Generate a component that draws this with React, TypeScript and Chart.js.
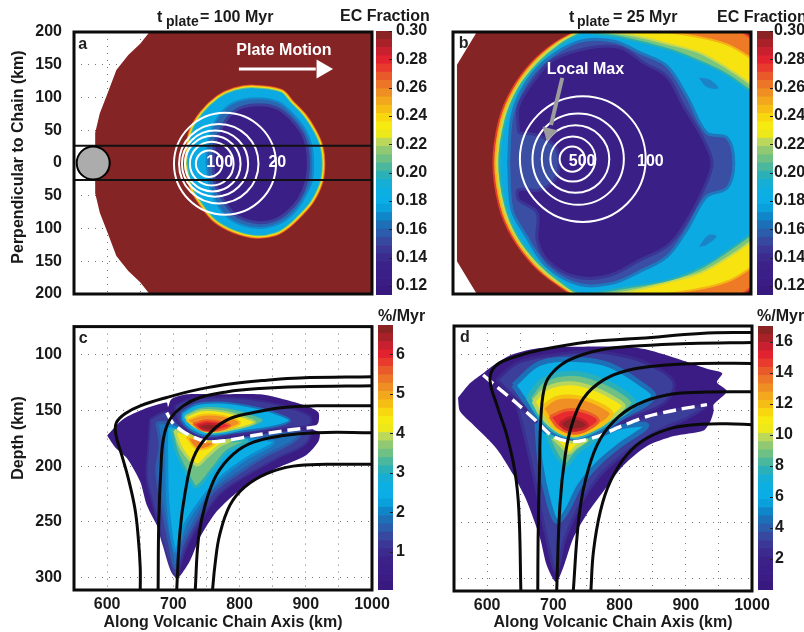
import React, { useEffect, useRef } from "react";
import { Chart, registerables } from "chart.js";

Chart.register(...registerables);

type P = [number, number];

// ---------- axis ticks ----------
const alongTicks = [550, 600, 650, 700, 750, 800, 850, 900, 950, 1000];
const alongLabels = [600, 700, 800, 900, 1000];
const perpTicks = [-200, -150, -100, -50, 0, 50, 100, 150, 200];
const depthTicks = [100, 150, 200, 250, 300];
const ecTicks = [0.3, 0.28, 0.26, 0.24, 0.22, 0.2, 0.18, 0.16, 0.14, 0.12];
const rateTicksC = [1, 2, 3, 4, 5, 6];
const rateTicksD = [2, 4, 6, 8, 10, 12, 14, 16];

// ---------- colour bars ----------
const barColors = ["#38197f", "#3a1c84", "#3b1f88", "#3c2288", "#3c2a8f", "#3b3797", "#37499f", "#2c5dac", "#1d70b8", "#0f86c8", "#09a0dc", "#0aade5", "#0dafe3", "#16aed4", "#2bb0b8", "#4bb79c", "#6ec085", "#90c972", "#bcd85a", "#ece81a", "#f7ea10", "#f8d70f", "#f6bd14", "#f3a71c", "#ef8f23", "#ec7527", "#e95a2a", "#e93a2e", "#e2222f", "#c8202f", "#a92128", "#8a2324"];
const ecLevels = [0.1137, 0.1195, 0.1253, 0.1312, 0.137, 0.1428, 0.1486, 0.1545, 0.1603, 0.1661, 0.172, 0.1778, 0.1836, 0.1894, 0.1953, 0.2011, 0.2069, 0.2127, 0.2186, 0.2244, 0.2302, 0.236, 0.2419, 0.2477, 0.2535, 0.2593, 0.2652, 0.271, 0.2768, 0.2826, 0.2885, 0.2942, 0.3];
const rateLevelsC = [0.035, 0.245, 0.454, 0.664, 0.873, 1.08, 1.29, 1.5, 1.71, 1.92, 2.13, 2.34, 2.55, 2.76, 2.97, 3.18, 3.39, 3.6, 3.81, 4.02, 4.23, 4.43, 4.64, 4.85, 5.06, 5.27, 5.48, 5.69, 5.9, 6.11, 6.32, 6.53, 6.74];
const rateLevelsD = [0, 0.53, 1.06, 1.59, 2.13, 2.66, 3.19, 3.72, 4.25, 4.78, 5.31, 5.84, 6.38, 6.91, 7.44, 7.97, 8.5, 9.03, 9.56, 10.09, 10.63, 11.16, 11.69, 12.22, 12.75, 13.28, 13.81, 14.34, 14.88, 15.41, 15.94, 16.47, 17];

// ---------- panel a: contours of EC fraction ----------
const aBase: P[] = [[1010, 205], [668, 205], [650, 182], [632, 165], [614, 142], [599, 102], [589, 76], [582, 46], [582, -46], [589, -76], [599, -102], [614, -142], [632, -165], [650, -182], [668, -205], [1010, -205]];
const aCyan: P[] = [[723, 0], [730, 46], [746, 74], [770, 97], [793, 108], [821, 112], [861, 106], [875, 91], [894, 71], [909, 48], [919, 25], [922, 0], [919, -28], [906, -56], [889, -76], [870, -94], [853, -104], [826, -108], [793, -100], [765, -84], [746, -61], [731, -36]];
const aBlue: P[] = [[750, 0], [753, 36], [768, 71], [791, 92], [826, 99], [859, 93], [881, 74], [899, 51], [909, 25], [911, 0], [909, -28], [896, -56], [879, -79], [856, -94], [826, -99], [791, -89], [770, -69], [755, -36]];
const aDark: P[] = [[760, 0], [763, 31], [780, 66], [801, 84], [831, 89], [856, 84], [876, 69], [894, 46], [902, 23], [904, 0], [901, -28], [889, -56], [871, -76], [851, -88], [826, -91], [796, -81], [778, -61], [763, -31]];
const aRingCenters: P[] = [[778, -1], [768.6, -1], [763, -1], [759.5, -1], [758, -1], [754, -1]];
const aRingRadiiKm = [77, 60, 50, 42, 33, 20];
const aChainUpper: P[] = [[550, 26.5], [1000, 26.5]];
const aChainLower: P[] = [[550, -26], [1000, -26]];
const aVolcano: P[] = [[579, 0]];
const plateShaft: P[] = [[799, 143.5], [915, 143.5]];
const plateHead: P[] = [[924.6, 143.5]];

// ---------- panel b ----------
const bBase: P[] = [[589, 205], [556, 150], [556, -150], [589, -205], [1010, -205], [1010, 205]];
const bOrange: P[] = [[742, 204], [974, 204], [1010, 170], [1010, -170], [974, -204], [742, -204], [704, -183], [669, -153], [639, -112], [620, -66], [611, 0], [620, 66], [639, 112], [669, 153], [704, 183]];
const bYellow: P[] = [[745, 204], [833, 204], [913, 194], [964, 181], [1000, 160], [1010, 150], [1010, -150], [1000, -160], [964, -181], [913, -194], [833, -204], [745, -204], [707, -183], [672, -153], [642, -112], [623, -66], [614, 0], [623, 66], [642, 112], [672, 153], [707, 183]];
const bGreen: P[] = [[748, 204], [820, 195], [878, 181], [923, 168], [964, 145], [1000, 120], [1010, 110], [1010, -110], [1000, -120], [964, -145], [923, -168], [878, -181], [820, -195], [748, -204], [710, -183], [675, -153], [645, -112], [626, -66], [617, 0], [626, 66], [645, 112], [675, 153], [710, 183]];
const bCyan: P[] = [[745, 200], [808, 191], [878, 173], [928, 153], [964, 135], [1000, 109], [1010, 100], [1010, -100], [1000, -109], [964, -135], [928, -158], [878, -178], [808, -191], [745, -200], [712, -181], [677, -150], [648, -112], [629, -64], [620, 0], [629, 64], [648, 112], [677, 150], [712, 181]];
const bPatchTop: P[] = [[921, 130], [938, 127], [951, 114], [933, 116]];
const bPatchBottom: P[] = [[921, -128], [933, -125], [948, -112], [936, -110]];
const bMid: P[] = [[634, 0], [639, 71], [659, 120], [692, 158], [742, 186], [793, 186], [833, 168], [873, 148], [903, 102], [933, 46], [964, 38], [974, 0], [964, -38], [933, -51], [903, -102], [873, -143], [833, -165], [793, -183], [742, -186], [692, -158], [659, -109], [639, -71]];
const bDark: P[] = [[649, 46], [649, 87], [677, 132], [702, 158], [757, 176], [803, 176], [838, 153], [873, 132], [898, 87], [928, 36], [941, 0], [928, -41], [898, -97], [873, -127], [833, -148], [782, -173], [732, -173], [692, -148], [677, -117], [677, -76], [649, -56], [649, -41], [682, -41], [707, -20], [707, 20], [682, 41]];
const bRingCenters: P[] = [[746, 6], [739, 6], [735, 6], [731, 6], [730, 6]];
const bRingRadiiKm = [95, 69, 51, 34, 19];
const localMaxShaft: P[] = [[715, 130], [698, 58]];
const localMaxHead: P[] = [[695, 46]];

// ---------- panel c ----------
const cOuter: P[] = [[600, 172.6], [624, 158], [655, 149], [690, 143], [692, 147], [697, 140], [720, 135.6], [765, 135.6], [831, 135.6], [866, 140], [901, 146], [919, 152], [919, 161], [911, 167], [921, 170], [919, 178], [901, 190], [856, 202], [821, 214], [791, 226], [765, 241], [740, 264], [725, 285], [705, 301], [695, 288], [680, 259], [660, 235], [650, 214], [630, 193], [612, 183]];
const cWedgeMid: P[] = [[665, 158], [662, 185], [660, 210], [672, 240], [685, 270], [703, 298], [718, 275], [742, 248], [770, 225], [820, 205], [860, 192], [900, 180], [905, 168], [791, 176], [750, 178], [720, 171], [690, 152]];
const cWedgeBlue: P[] = [[675, 161], [680, 181], [675, 205], [685, 241], [695, 271], [703, 291], [713, 271], [735, 247], [760, 223], [801, 205], [841, 190], [881, 178], [891, 170], [791, 176], [750, 178], [720, 171], [700, 162]];
const cWedgeCyan: P[] = [[690, 165], [690, 190], [692, 235], [703, 276], [717, 253], [740, 232], [770, 211], [811, 193], [851, 178.5], [801, 176], [750, 178.5], [720, 171], [697, 164]];
const cWedgeTeal: P[] = [[697, 167], [705, 187], [725, 211], [735, 218.6], [760, 202], [780.5, 187], [811, 177], [750, 178.5], [720, 171]];
const cWedgeYellow: P[] = [[702, 168], [712.6, 184.5], [735, 199], [750, 192], [770, 181.5], [785.5, 177], [750, 178], [720, 171]];
const cWedgeOrange: P[] = [[720, 174], [735, 184.5], [750, 184], [763, 179], [750, 178], [733, 175]];
const cLobeMid: P[] = [[702.5, 146], [725, 140], [765, 138.5], [816, 140], [866, 146], [906, 155], [906, 163], [871, 166], [790.6, 172.6], [750, 175.6], [722.6, 169], [705, 159]];
const cLobeCyan: P[] = [[712.6, 152], [735, 144.5], [770, 143], [811, 146], [851, 152], [876, 159], [856, 164], [790.6, 170], [750, 173], [725, 167], [712.6, 159]];
const cLobeTeal: P[] = [[715, 154], [740, 147], [775.5, 147], [811, 152], [836, 159], [806, 166.7], [755, 171], [728, 165]];
const cLobeYellow: P[] = [[717.6, 156], [743, 150], [775.5, 151], [805.7, 156], [823, 161], [790.6, 167], [753, 169.7], [730, 164]];
const cLobeOrange: P[] = [[720, 159], [745, 154], [775.5, 155], [800.6, 161], [785.5, 166], [753, 169], [733, 164]];
const cLobeRed: P[] = [[730, 162], [750, 159], [775.5, 161], [785.5, 164], [760, 168.5], [740, 167]];
const cLobeDark: P[] = [[738, 164], [753, 162], [770, 164], [760, 168], [745, 167]];
const cDashed: P[] = [[690, 152], [700, 162], [720, 171], [750, 178], [780.5, 177], [821, 172.6], [871, 168], [916, 165]];
const cFlow1: P[] = [[1002, 120], [891, 121], [841, 123], [791, 126], [740, 131], [690, 138.5], [650, 146], [627, 153], [614, 161], [613, 171], [622, 190], [632, 211], [642, 238], [647, 264], [650, 291], [650, 312]];
const cFlow2: P[] = [[1002, 128], [891, 129], [831, 130.5], [780, 133.5], [740, 138.5], [715, 146], [695, 158], [685, 175.6], [681, 205], [678, 250], [677, 312]];
const cFlow3: P[] = [[1002, 146], [916, 146], [866, 147.4], [821, 152], [780, 159], [750, 174], [730, 193], [718, 223], [710, 258.6], [705, 312]];
const cFlow4: P[] = [[1002, 170], [916, 170], [866, 172.6], [821, 178.5], [791, 189], [765, 208], [748, 235], [738, 264.5], [733, 312]];
const cFlow5: P[] = [[1002, 198.4], [931, 198.4], [881, 200], [841, 206.7], [808, 218.6], [785.5, 235], [770, 261.5], [763, 288], [759, 312]];

// ---------- panel d ----------
const dOuter: P[] = [[556, 139], [574, 126], [594, 117], [607, 111], [635, 101], [675, 95], [730, 93.5], [811, 93.5], [841, 96], [892, 105], [932, 113], [955, 117], [947, 125], [962, 133], [942, 145], [942, 151], [937, 160], [927, 168], [882, 173], [841, 182], [806, 199], [776, 222], [750, 243], [730, 264], [715, 290], [704, 303], [690, 288], [680, 264], [660, 231], [640, 208], [614, 184], [579, 163], [559, 151]];
const dWedgeMid: P[] = [[645, 145], [660, 181], [675, 222], [690, 264], [704, 293.5], [718, 264], [740.5, 234], [771, 207.6], [811, 187], [856, 169], [902, 157], [927, 147], [841, 155.7], [766, 173.5], [730, 178], [700, 173.5]];
const dWedgeCyan: P[] = [[675, 161.6], [680, 195.7], [692.6, 231], [705, 249], [720, 240], [740.5, 216.5], [771, 195.7], [801, 181], [841, 163.7], [801, 165], [766, 173.5], [730, 178], [700, 173.5]];
const dWedgeTeal: P[] = [[690, 170.5], [703, 188], [719, 198.7], [735, 188], [760.6, 176.5], [771, 172], [730, 178], [700, 173.5]];
const dWedgeYellow: P[] = [[700, 175], [713, 182.4], [723, 188], [735, 182.4], [750.5, 176.5], [730, 178.5]];
const dLobeMid: P[] = [[614.5, 123], [645, 108], [695, 101], [755.6, 98], [800.9, 101], [841, 108], [881.6, 124.6], [871, 142], [831, 154], [791, 163], [766, 170.5], [730, 175.6], [700, 170.5], [675, 157], [645, 141]];
const dLobeCyan: P[] = [[640, 127.6], [680, 108], [740.5, 105], [786, 110], [831, 126], [851, 138], [806, 155.7], [766, 169.6], [730, 174], [700, 170], [675, 156]];
const dLobeTeal: P[] = [[662, 139], [685, 123], [730, 117], [771, 123], [811, 136], [821, 145], [786, 160], [755.6, 169.6], [730, 173.8], [703, 168.5], [680, 155.7]];
const dLobeYellow: P[] = [[670, 142], [690, 130.5], [725, 126], [760.6, 130.5], [796, 141], [806, 147], [776, 161.6], [750.5, 169], [730, 172.6], [705, 167.6], [683, 155.7]];
const dLobeOrange: P[] = [[682.5, 148], [705, 139], [740.5, 138.8], [776, 146.8], [788, 154], [760.6, 166.7], [730, 172], [705, 166.7]];
const dLobeRed: P[] = [[695, 155.7], [720, 149.8], [745.5, 151], [768, 158.7], [750.5, 167.6], [730, 170.5], [708, 165.5]];
const dLobeDark: P[] = [[710, 161.6], [725, 156.6], [743, 158.7], [751.6, 163.7], [735.5, 167.6], [718, 166.7]];
const dDashed: P[] = [[594, 118.7], [614.5, 129], [645, 144], [675, 160], [700, 173.5], [730, 178], [766, 173.5], [801, 164.6], [841, 155.7], [892, 149], [932, 145]];
const dFlow1: P[] = [[1002, 80.7], [922, 81.6], [831, 86], [755.6, 89], [680, 96.4], [635, 103.8], [612, 111], [604.4, 123], [614.5, 145], [629.6, 172], [642, 204.6], [648, 240], [651, 312]];
const dFlow2: P[] = [[1002, 89.6], [907, 90.5], [831, 92.6], [771, 96.4], [725, 105], [700, 115.7], [687.6, 127.6], [681.5, 154], [679, 204.6], [677, 264], [676.5, 312]];
const dFlow3: P[] = [[1002, 108.3], [922, 108.3], [871.5, 109.8], [816, 114], [776, 123], [745.5, 139.4], [728, 163], [718, 189.8], [710, 234], [705, 312]];
const dFlow4: P[] = [[1002, 133.5], [922, 134], [871.5, 136.4], [826, 145], [791, 160], [766, 181], [748, 213.5], [738, 249], [730, 312]];
const dFlow5: P[] = [[1002, 163], [962, 162], [922, 162.5], [881.6, 165.5], [841, 175], [811, 189.8], [786, 213.5], [771, 240], [760.6, 275.7], [756.6, 312]];

// ---------- drawing helpers ----------
const FAMILY = "'Liberation Sans', Arial, sans-serif";
const PX_PER_KM = 298 / 450;
const toXY = (pts: P[]) => pts.map(([x, y]) => ({ x, y }));
const none = { pointRadius: 0, pointHoverRadius: 0 };

function area(pts: P[], fill: string, edge?: string, width = 2, tension = 0.35) {
  return {
    data: toXY([...pts, pts[0]]), showLine: true, fill: "shape", tension,
    backgroundColor: fill, borderColor: edge || fill, borderWidth: edge ? width : 0, ...none,
  };
}
function stroke(pts: P[], color: string, width: number, tension = 0.4, dash?: number[]) {
  return {
    data: toXY(pts), showLine: true, fill: false, tension, borderColor: color,
    borderWidth: width, borderDash: dash || [], ...none,
  };
}
function band(pts: P[], color: string, width: number) {
  return stroke([...pts, pts[0]], color, width, 0.35);
}
function rings(centers: P[], radiiKm: number[]) {
  return {
    data: toXY(centers), showLine: false, pointRadius: radiiKm.map((r) => r * PX_PER_KM),
    pointBackgroundColor: "rgba(0,0,0,0)", pointBorderColor: "#ffffff", pointBorderWidth: 2,
  };
}
function marker(pts: P[], style: string, radius: number, color: string, rotation = 0, edge?: string, edgeW = 0) {
  return {
    data: toXY(pts), showLine: false, pointStyle: style, pointRadius: radius, pointRotation: rotation,
    pointBackgroundColor: color, pointBorderColor: edge || color, pointBorderWidth: edgeW,
  };
}

type Note = { text: string; x: number; y: number; color: string };

function decor(notes: Note[]) {
  return {
    id: "decor",
    afterDraw(chart: any) {
      const { ctx, chartArea: a, scales } = chart;
      ctx.save();
      ctx.font = `bold 16px ${FAMILY}`;
      ctx.textAlign = "center";
      ctx.textBaseline = "middle";
      for (const n of notes) {
        ctx.fillStyle = n.color;
        ctx.fillText(n.text, scales.x.getPixelForValue(n.x), scales.y.getPixelForValue(n.y));
      }
      ctx.strokeStyle = "#0b0b0b";
      ctx.lineWidth = 3;
      ctx.strokeRect(a.left, a.top, a.right - a.left, a.bottom - a.top);
      ctx.restore();
    },
  };
}

const barTickMarks = {
  id: "barTickMarks",
  afterDraw(chart: any) {
    const { ctx, chartArea: a, scales } = chart;
    ctx.save();
    ctx.strokeStyle = "#222222";
    ctx.lineWidth = 1;
    for (const t of scales.y.ticks) {
      const y = Math.round(scales.y.getPixelForValue(t.value)) + 0.5;
      ctx.beginPath();
      ctx.moveTo(a.right - 3, y);
      ctx.lineTo(a.right, y);
      ctx.stroke();
    }
    ctx.restore();
  },
};

type PlotSpec = {
  layers: any[]; notes: Note[]; yMin: number; yMax: number; yTicks: number[]; reverse?: boolean;
  showY: boolean; showX: boolean; yWidth: number; xHeight: number; padTop: number; padRight: number;
};

function plotConfig(s: PlotSpec): any {
  const font = { family: FAMILY, size: 16, weight: "bold" };
  const grid = { color: "#777777", lineWidth: 1, drawTicks: false };
  const border = { display: false, dash: [1, 6] };
  return {
    type: "scatter",
    data: { datasets: [...s.layers].reverse() },
    options: {
      animation: false, responsive: false, events: [],
      layout: { autoPadding: false, padding: { top: s.padTop, right: s.padRight, left: 0, bottom: 0 } },
      plugins: { legend: { display: false }, tooltip: { enabled: false } },
      scales: {
        x: {
          type: "linear", min: 550, max: 1000, grid, border,
          afterBuildTicks: (sc: any) => { sc.ticks = alongTicks.map((value) => ({ value })); },
          afterFit: (sc: any) => { sc.height = s.xHeight; },
          ticks: {
            display: s.showX, color: "#1a1a1a", font, padding: 5, autoSkip: false, maxRotation: 0,
            callback: (v: number) => (alongLabels.includes(v) ? String(v) : ""),
          },
        },
        y: {
          type: "linear", min: s.yMin, max: s.yMax, reverse: !!s.reverse, grid, border,
          afterBuildTicks: (sc: any) => { sc.ticks = s.yTicks.map((value) => ({ value })); },
          afterFit: (sc: any) => { sc.width = s.yWidth; },
          ticks: {
            display: s.showY, color: "#1a1a1a", font, padding: 12, autoSkip: false,
            callback: (v: number) => String(Math.abs(v)),
          },
        },
      },
    },
    plugins: [decor(s.notes)],
  };
}

function barConfig(levels: number[], ticks: number[], digits: number, barW: number, canvasW: number, padTop: number, padBottom: number, gap: number): any {
  return {
    type: "bar",
    data: {
      labels: [""],
      datasets: barColors.map((c, i) => ({
        data: [[levels[i], levels[i + 1]]], backgroundColor: c, barPercentage: 1, categoryPercentage: 1, borderWidth: 0,
      })),
    },
    options: {
      animation: false, responsive: false, events: [],
      layout: { autoPadding: false, padding: { top: padTop, bottom: padBottom, left: 2, right: 0 } },
      plugins: { legend: { display: false }, tooltip: { enabled: false } },
      scales: {
        x: { stacked: true, display: false },
        y: {
          stacked: false, position: "right", min: levels[0], max: levels[levels.length - 1],
          grid: { display: false, drawTicks: false }, border: { display: false },
          afterBuildTicks: (sc: any) => { sc.ticks = ticks.map((value) => ({ value })); },
          afterFit: (sc: any) => { sc.width = canvasW - 2 - barW; },
          ticks: {
            color: "#1a1a1a", padding: gap, autoSkip: false,
            font: { family: FAMILY, size: 16, weight: "bold" },
            callback: (v: number) => v.toFixed(digits),
          },
        },
      },
    },
    plugins: [barTickMarks],
  };
}

// ---------- panels ----------
const panelA = plotConfig({
  layers: [
    area(aBase, "#842424", undefined, 0, 0),
    band(aCyan, "#e8552a", 10),
    band(aCyan, "#f4a11c", 8.5),
    band(aCyan, "#f7e612", 7),
    band(aCyan, "#74c27e", 5),
    band(aCyan, "#0faadf", 3),
    area(aCyan, "#0caae2"),
    area(aBlue, "#2a68b2", "#1388cc", 2),
    area(aDark, "#3a1f87", "#3b3f9a", 3),
    rings(aRingCenters, aRingRadiiKm),
    stroke(aChainUpper, "#111111", 2, 0),
    stroke(aChainLower, "#111111", 2, 0),
    marker(aVolcano, "circle", 16.5, "#acacac", 0, "#000000", 2),
    stroke(plateShaft, "#ffffff", 3, 0),
    marker(plateHead, "triangle", 11, "#ffffff", 90),
  ],
  notes: [
    { text: "a", x: 563, y: 181, color: "#222222" },
    { text: "Plate Motion", x: 867, y: 171, color: "#ffffff" },
    { text: "100", x: 770, y: 0, color: "#ffffff" },
    { text: "20", x: 857, y: 0, color: "#ffffff" },
  ],
  yMin: -200, yMax: 200, yTicks: perpTicks, showY: true, showX: false,
  yWidth: 74, xHeight: 36, padTop: 32, padRight: 28,
});

const panelB = plotConfig({
  layers: [
    area(bBase, "#842424", undefined, 0, 0),
    area(bOrange, "#ee7a25", "#e2402a", 2),
    area(bYellow, "#f7e30f", "#f5b316", 2),
    area(bGreen, "#7cc57c", "#c4da54", 2),
    area(bCyan, "#0caae2", "#2bb0b0", 2),
    area(bPatchTop, "#1b84c6"),
    area(bPatchBottom, "#1b84c6"),
    area(bMid, "#3a4ea3", "#1f78be", 3),
    area(bDark, "#3a1f87", "#3b3595", 3),
    rings(bRingCenters, bRingRadiiKm),
    stroke(localMaxShaft, "#9c9c9c", 4, 0),
    marker(localMaxHead, "triangle", 9, "#9c9c9c", 194),
  ],
  notes: [
    { text: "b", x: 566, y: 183, color: "#222222" },
    { text: "Local Max", x: 750, y: 143, color: "#ffffff" },
    { text: "500", x: 745, y: 2.5, color: "#ffffff" },
    { text: "100", x: 848, y: 2.5, color: "#ffffff" },
  ],
  yMin: -200, yMax: 200, yTicks: perpTicks, showY: false, showX: false,
  yWidth: 13, xHeight: 36, padTop: 32, padRight: 19,
});

const panelC = plotConfig({
  layers: [
    area(cOuter, "#3a1c84", undefined, 0, 0.25),
    area(cWedgeMid, "#3b3f9a", "#3b2f90", 2),
    area(cWedgeBlue, "#1f72ba", "#2c5dac", 3),
    area(cWedgeCyan, "#0aaee4", "#0f8cd0", 3),
    area(cWedgeTeal, "#6ec085", "#2bb0b8", 3),
    area(cWedgeYellow, "#f6e712", "#b8d65c", 3),
    area(cWedgeOrange, "#ef7f25", "#f6bd14", 2),
    area(cLobeMid, "#3c3a96", "#3b2a8c", 2),
    area(cLobeCyan, "#0aaee4", "#1d70b8", 2),
    area(cLobeTeal, "#5cbc90", "#16aed4", 2),
    area(cLobeYellow, "#f4e716", "#a6d064", 2),
    area(cLobeOrange, "#f09024", "#f6c012", 2),
    area(cLobeRed, "#e62a2e", "#ec5c28", 2),
    area(cLobeDark, "#8f2325", "#c0202c", 2),
    stroke(cDashed, "#ffffff", 3.4, 0.3, [13, 6]),
    stroke(cFlow1, "#0a0a0a", 3),
    stroke(cFlow2, "#0a0a0a", 3),
    stroke(cFlow3, "#0a0a0a", 3),
    stroke(cFlow4, "#0a0a0a", 3),
    stroke(cFlow5, "#0a0a0a", 3),
  ],
  notes: [{ text: "c", x: 564, y: 86, color: "#222222" }],
  yMin: 75, yMax: 311, yTicks: depthTicks, reverse: true, showY: true, showX: true,
  yWidth: 74, xHeight: 42, padTop: 20, padRight: 28,
});

const panelD = plotConfig({
  layers: [
    area(dOuter, "#3a1c84", undefined, 0, 0.25),
    area(dWedgeMid, "#3b3f9a", "#3b2f90", 3),
    area(dWedgeCyan, "#0aaee4", "#1d70b8", 5),
    area(dWedgeTeal, "#6ec085", "#2bb0b8", 4),
    area(dWedgeYellow, "#f6e712", "#b8d65c", 3),
    area(dLobeMid, "#3b3f9a", "#3b2a8c", 3),
    area(dLobeCyan, "#0aaee4", "#1d70b8", 5),
    area(dLobeTeal, "#6ec085", "#2bb0b8", 5),
    area(dLobeYellow, "#f6e712", "#b8d65c", 4),
    area(dLobeOrange, "#f09024", "#f6c012", 4),
    area(dLobeRed, "#e62a2e", "#ec5c28", 3),
    area(dLobeDark, "#8f2325", "#c0202c", 3),
    stroke(dDashed, "#ffffff", 3.4, 0.3, [13, 6]),
    stroke(dFlow1, "#0a0a0a", 3),
    stroke(dFlow2, "#0a0a0a", 3),
    stroke(dFlow3, "#0a0a0a", 3),
    stroke(dFlow4, "#0a0a0a", 3),
    stroke(dFlow5, "#0a0a0a", 3),
  ],
  notes: [{ text: "d", x: 566.6, y: 85, color: "#222222" }],
  yMin: 75, yMax: 311, yTicks: depthTicks, reverse: true, showY: false, showX: true,
  yWidth: 14, xHeight: 41, padTop: 21, padRight: 48,
});

// ---------- components ----------
function Canvas({ config, left, top, w, h }: { config: any; left: number; top: number; w: number; h: number }) {
  const ref = useRef<HTMLCanvasElement | null>(null);
  useEffect(() => {
    const chart = new Chart(ref.current as HTMLCanvasElement, config);
    return () => chart.destroy();
  }, [config]);
  return <canvas ref={ref} width={w} height={h} style={{ position: "absolute", left, top, width: w, height: h, display: "block" }} />;
}

function Text({ x, y, size = 16, rotate, center, children }: any) {
  return (
    <div
      style={{
        position: "absolute", left: x, top: y, whiteSpace: "nowrap", lineHeight: 1,
        font: `bold ${size}px ${FAMILY}`, color: "#1a1a1a",
        transform: `translate(${center ? "-50%" : "0"}, -50%)${rotate ? ` rotate(${rotate}deg)` : ""}`,
      }}
    >
      {children}
    </div>
  );
}

const barA = barConfig(ecLevels, ecTicks, 2, 16, 66, 21, 25, 4);
const barB = barConfig(ecLevels, ecTicks, 2, 16, 66, 21, 25, 1);
const barC = barConfig(rateLevelsC, rateTicksC, 0, 15, 50, 25, 25, 3);
const barD = barConfig(rateLevelsD, rateTicksD, 0, 15, 50, 26, 25, 2);

export default function App() {
  return (
    <div style={{ position: "fixed", left: 0, top: 0, width: 804, height: 632, overflow: "hidden", background: "#fff", filter: "blur(0.5px)" }}>
      <Canvas config={panelA} left={0} top={0} w={400} h={330} />
      <Canvas config={panelB} left={440} top={0} w={330} h={330} />
      <Canvas config={panelC} left={0} top={305} w={400} h={327} />
      <Canvas config={panelD} left={440} top={305} w={360} h={327} />
      <Canvas config={barA} left={374} top={10} w={66} h={310} />
      <Canvas config={barB} left={755} top={10} w={66} h={310} />
      <Canvas config={barC} left={376} top={300} w={50} h={315} />
      <Canvas config={barD} left={756} top={300} w={50} h={315} />

      <Text x={157} y={17}>t</Text>
      <Text x={166} y={21} size={14}>plate</Text>
      <Text x={200} y={17}>= 100 Myr</Text>
      <Text x={569} y={17}>t</Text>
      <Text x={577} y={21} size={14}>plate</Text>
      <Text x={613} y={17}>= 25 Myr</Text>

      <Text x={340} y={16}>EC Fraction</Text>
      <Text x={717} y={17}>EC Fraction</Text>
      <Text x={378} y={316}>%/Myr</Text>
      <Text x={757} y={316}>%/Myr</Text>

      <Text x={18} y={157} center rotate={-90}>Perpendicular to Chain (km)</Text>
      <Text x={18} y={438} center rotate={-90}>Depth (km)</Text>
      <Text x={223} y={622} center>Along Volcanic Chain Axis (km)</Text>
      <Text x={613} y={622} center>Along Volcanic Chain Axis (km)</Text>
    </div>
  );
}
